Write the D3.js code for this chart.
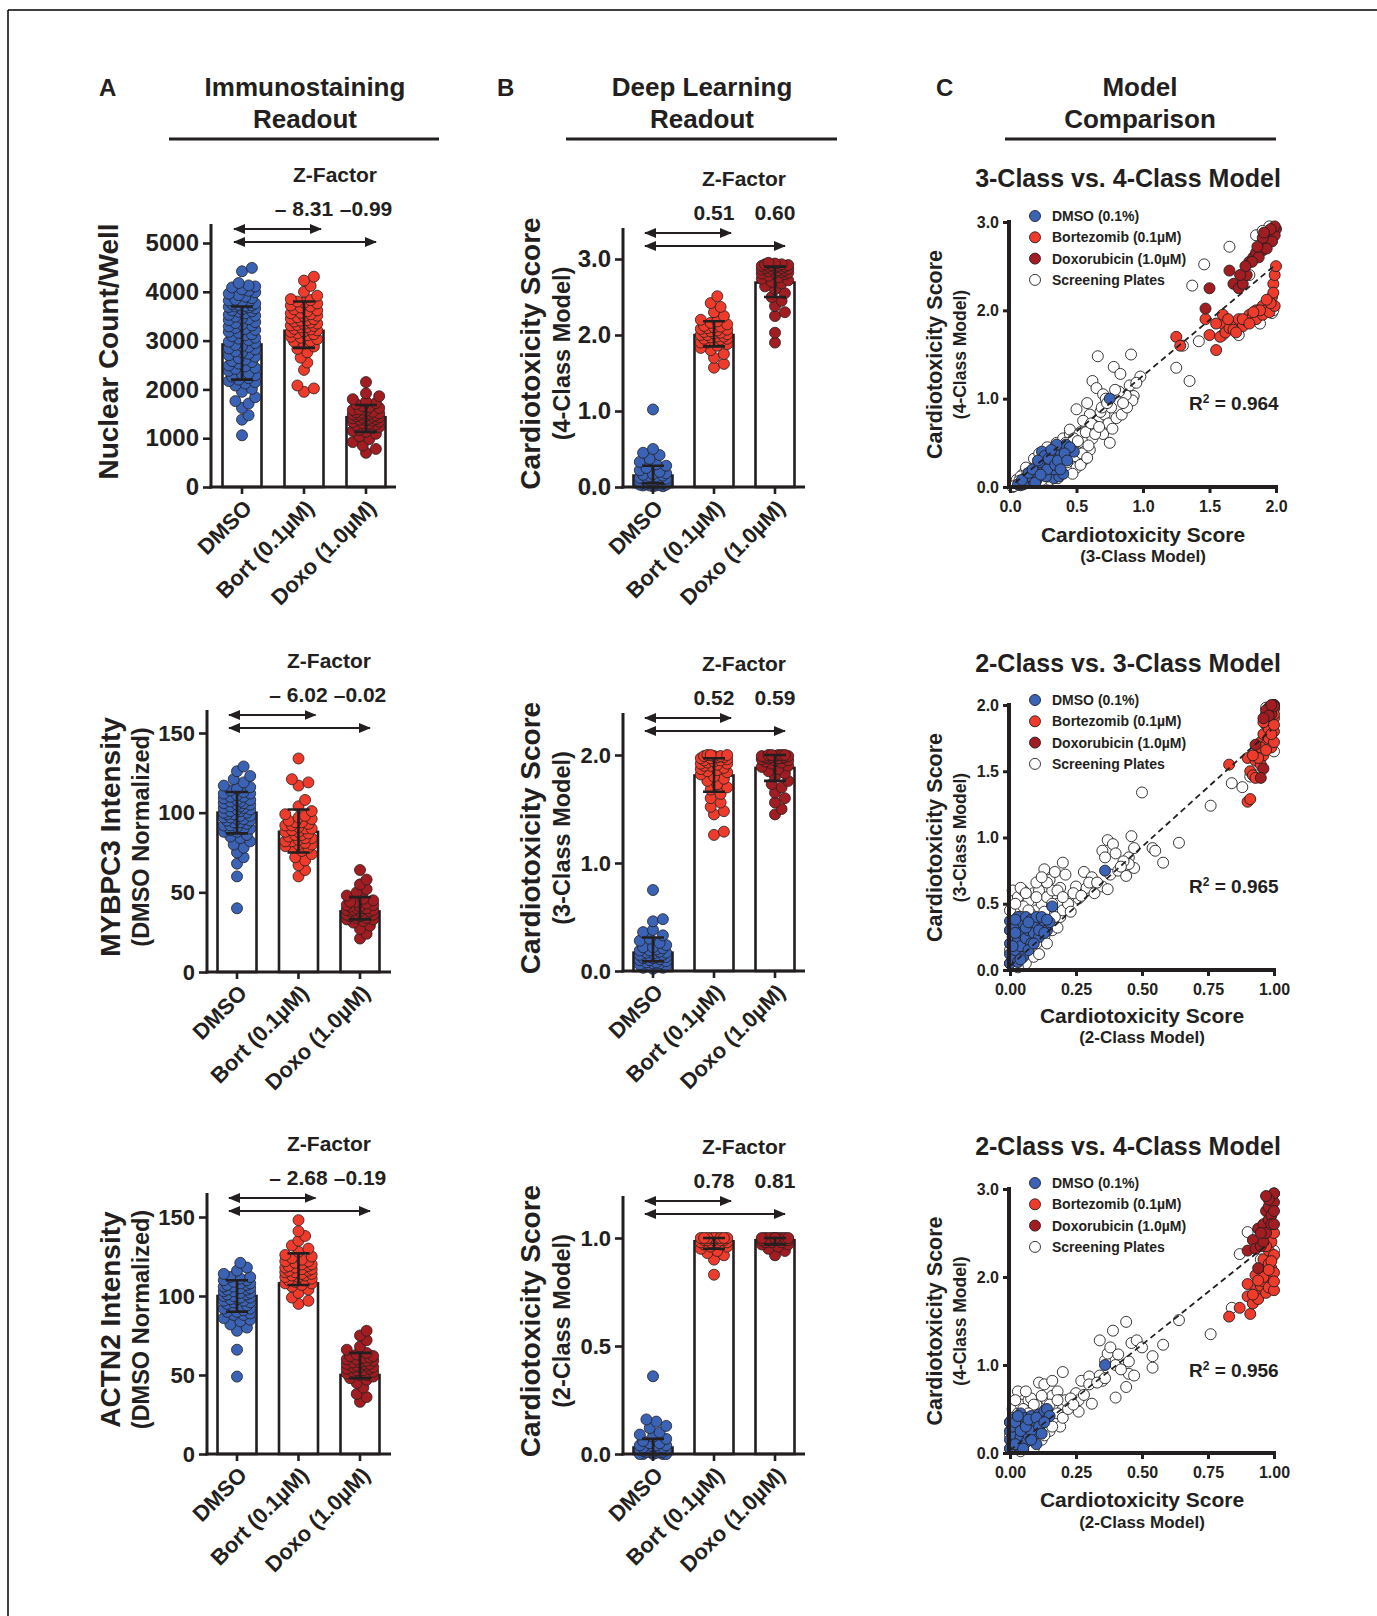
<!DOCTYPE html>
<html>
<head>
<meta charset="utf-8">
<script src="https://cdn.jsdelivr.net/npm/d3@7"></script>
<style>
body { margin: 0; background: #fff; }
text { font-family: "Liberation Sans", Arial, sans-serif; font-weight: bold; fill: #231f20; }
</style>
</head>
<body>
<svg id="fig" width="1377" height="1616"></svg>
<script>
// categories and colours
const groups = ["DMSO", "Bort (0.1\u00b5M)", "Doxo (1.0\u00b5M)"];
const groupColors = ["#3a62b5", "#ef3b2c", "#a11d21"];
const legendNames = ["DMSO (0.1%)", "Bortezomib (0.1\u00b5M)", "Doxorubicin (1.0\u00b5M)", "Screening Plates"];

// A1 nuclear count
const nucDMSO = [1060,1380,1470,1620,1710,1760,1840,1950,2010,2080,2120,2170,2200,2230,2290,2330,2380,2420,2470,2530,2560,2610,2640,2700,2730,2780,2820,2870,2910,2950,3010,3040,3090,3130,3180,3220,3260,3290,3330,3380,3420,3460,3510,3560,3600,3640,3680,3700,3720,3750,3780,3820,3870,3930,3990,4050,4090,4130,4180,4420,4490,
	2150,2260,2310,2440,2490,2580,2670,2760,2840,2890,2980,3060,3110,3160,3240,3310,3360,3440,3490,3530,3590,3620,3660,3690,3710,3730,3760,3800,3840,3900,3960,4020,4110];
const nucBort = [1950,2020,2080,2400,2550,2650,2760,2830,2880,2940,2990,3030,3080,3110,3150,3190,3210,3240,3270,3300,3320,3340,3370,3390,3420,3450,3480,3510,3540,3570,3600,3640,3680,3720,3760,3800,3850,3920,4000,4120,4230,4310,
	2980,3060,3130,3180,3230,3280,3310,3350,3410,3440,3500,3560,3620,3700,3780,3830];
const nucDoxo = [700,780,850,920,980,1040,1090,1130,1170,1210,1250,1280,1310,1340,1360,1380,1400,1420,1440,1460,1480,1500,1520,1540,1560,1590,1620,1660,1700,1750,1800,1860,1920,2150,
	1150,1230,1270,1300,1330,1370,1390,1410,1430,1450,1470,1490,1510,1530,1580,1640,1720];
const nucMean = [2920, 3200, 1430];
const nucErr = [[2200, 3700], [2850, 3800], [1130, 1680]];
const nucTicks = [0, 1000, 2000, 3000, 4000, 5000];
const zNuc = [-8.31, -0.99];

// B1 4-class score
const dl4DMSO = [0.01,0.02,0.02,0.03,0.03,0.04,0.05,0.05,0.06,0.07,0.07,0.08,0.09,0.1,0.1,0.11,0.12,0.13,0.14,0.15,0.16,0.18,0.2,0.22,0.25,0.28,0.3,0.33,0.37,0.42,0.45,0.5,1.02,
	0.01,0.02,0.03,0.04,0.05,0.06,0.08,0.09,0.11,0.12,0.14,0.17];
const dl4Bort = [1.57,1.62,1.7,1.75,1.8,1.83,1.86,1.88,1.9,1.92,1.94,1.95,1.97,1.98,2.0,2.01,2.02,2.04,2.05,2.07,2.08,2.1,2.12,2.14,2.16,2.18,2.2,2.25,2.3,2.37,2.42,2.51,
	1.9,1.95,1.98,2.0,2.03,2.06,2.09,2.11];
const dl4Doxo = [1.9,2.03,2.25,2.3,2.38,2.45,2.5,2.55,2.6,2.64,2.68,2.7,2.72,2.74,2.76,2.78,2.8,2.81,2.82,2.83,2.84,2.85,2.86,2.87,2.88,2.89,2.9,2.91,2.92,2.93,2.94,2.95,
	2.82,2.85,2.87,2.88,2.9,2.91,2.92,2.93];
const dl4Mean = [0.15, 2.0, 2.69];
const dl4Err = [[0.05, 0.28], [1.85, 2.18], [2.5, 2.9]];
const dl4Ticks = [0, 1, 2, 3];
const zDl4 = [0.51, 0.60];

// A2 MYBPC3
const mybDMSO = [40,60,68,72,75,78,80,82,84,86,88,89,90,91,92,93,94,95,96,97,98,99,100,101,102,103,104,105,106,107,108,109,110,111,112,113,115,117,119,121,123,126,129,
	85,88,90,92,94,95,96,97,98,99,100,101,102,103,104,105,106,107,108,110,112,114,116];
const mybBort = [60,64,67,70,72,74,76,78,79,80,81,82,83,84,85,86,87,88,89,90,91,92,93,94,96,98,101,104,108,117,119,121,134,
	78,80,82,84,86,88,90,92,94,95,97,99];
const mybDoxo = [21,24,27,29,31,32,33,34,35,35,36,37,37,38,38,39,39,40,40,41,42,43,44,45,46,48,50,52,55,58,64,
	33,34,36,37,38,39,40,41,42,44];
const mybMean = [100, 88, 38];
const mybErr = [[87, 113], [75, 102], [33, 47]];
const mybTicks = [0, 50, 100, 150];
const zMyb = [-6.02, -0.02];

// B2 3-class score
const dl3DMSO = [0.02,0.03,0.04,0.05,0.06,0.07,0.08,0.09,0.1,0.11,0.12,0.13,0.14,0.15,0.16,0.17,0.18,0.19,0.2,0.21,0.22,0.24,0.26,0.28,0.3,0.33,0.36,0.38,0.46,0.48,0.75,
	0.03,0.05,0.07,0.08,0.1,0.12,0.13,0.15,0.17,0.19,0.22];
const dl3Bort = [1.26,1.29,1.45,1.48,1.52,1.56,1.6,1.64,1.68,1.7,1.73,1.76,1.78,1.8,1.82,1.84,1.86,1.87,1.88,1.9,1.91,1.92,1.93,1.94,1.95,1.96,1.97,1.98,1.99,1.99,2.0,2.0,
	1.85,1.9,1.92,1.95,1.97,1.98,1.99,2.0];
const dl3Doxo = [1.45,1.5,1.56,1.6,1.65,1.7,1.73,1.76,1.8,1.83,1.85,1.87,1.89,1.9,1.92,1.93,1.94,1.95,1.96,1.97,1.97,1.98,1.98,1.99,1.99,2.0,2.0,2.0,
	1.95,1.97,1.98,1.99,2.0,2.0];
const dl3Mean = [0.17, 1.81, 1.88];
const dl3Err = [[0.09, 0.31], [1.66, 1.97], [1.76, 2.0]];
const dl3Ticks = [0, 1, 2];
const zDl3 = [0.52, 0.59];

// A3 ACTN2
const actDMSO = [49,66,78,80,82,84,86,88,89,90,91,92,93,94,95,96,97,98,99,100,101,102,103,104,105,106,107,108,109,110,111,112,114,116,118,121,
	85,88,90,92,94,96,97,98,99,100,101,102,103,104,105,106,107,108,110,112];
const actBort = [95,97,99,102,104,106,107,108,109,110,111,112,113,114,115,116,117,118,119,120,121,122,123,124,126,128,130,132,135,138,141,148,
	108,110,112,113,114,115,116,117,118,119,120,122,125];
const actDoxo = [33,36,38,42,45,47,49,50,51,52,53,54,55,55,56,57,57,58,59,60,61,62,63,64,66,68,72,75,78,
	48,50,52,53,54,55,56,57,58,59,60,61,62];
const actMean = [100, 108, 50];
const actErr = [[90, 110], [107, 127], [48, 64]];
const actTicks = [0, 50, 100, 150];
const zAct = [-2.68, -0.19];

// B3 2-class score
const dl2DMSO = [0,0,0,0.005,0.01,0.01,0.01,0.015,0.02,0.02,0.02,0.025,0.03,0.03,0.035,0.04,0.04,0.05,0.06,0.07,0.08,0.09,0.1,0.12,0.13,0.15,0.16,0.36,
	0,0,0.01,0.01,0.02,0.02,0.03,0.04,0.05];
const dl2Bort = [0.83,0.9,0.92,0.93,0.94,0.95,0.96,0.96,0.97,0.97,0.98,0.98,0.98,0.99,0.99,0.99,0.99,1.0,1.0,1.0,1.0,1.0,1.0,1.0,
	0.98,0.99,1.0,1.0,0.97];
const dl2Doxo = [0.92,0.94,0.95,0.96,0.97,0.97,0.98,0.98,0.99,0.99,0.99,1.0,1.0,1.0,1.0,1.0,1.0,1.0,1.0,
	0.98,0.99,1.0,1.0];
const dl2Mean = [0.03, 0.985, 0.99];
const dl2Err = [[0.0, 0.07], [0.95, 1.0], [0.97, 1.0]];
const dl2Ticks = [0, 0.5, 1];
const zDl2 = [0.78, 0.81];

// C1 3-class (x) vs 4-class (y)
const c1Screen = [[0.02,0.0],[0.04,0.02],[0.06,0.03],[0.08,0.05],[0.05,0.08],[0.1,0.06],[0.12,0.1],[0.14,0.08],[0.16,0.12],[0.18,0.18],[0.2,0.15],[0.22,0.1],[0.25,0.14],[0.28,0.18],[0.3,0.22],[0.32,0.16],[0.35,0.2],[0.38,0.25],[0.4,0.3],[0.42,0.22],[0.45,0.35],[0.47,0.28],[0.5,0.4],[0.52,0.45],[0.55,0.5],[0.58,0.55],[0.5,0.3],[0.44,0.18],[0.36,0.1],[0.3,0.08],[0.1,0.15],[0.15,0.2],[0.2,0.25],[0.25,0.32],[0.3,0.42],[0.18,0.32],[0.12,0.22],[0.08,0.12],[0.22,0.38],[0.28,0.45],[0.35,0.5],[0.4,0.55],[0.45,0.6],[0.6,0.65],[0.62,0.55],[0.56,0.4],[0.48,0.48],[0.38,0.38],[0.53,0.62],[0.66,0.75],[0.71,0.82],[0.74,0.72],[0.8,0.78],[0.76,0.9],[0.42,0.5],[0.33,0.33],[0.26,0.26],[0.5,0.22],[0.55,0.3],[0.6,0.42],[0.62,1.2],[0.65,1.12],[0.7,1.05],[0.66,1.48],[0.78,1.36],[0.83,1.28],[0.91,1.5],[0.98,1.25],[0.93,1.03],[0.92,0.98],[0.87,1.04],[0.82,1.08],[0.72,1.0],[0.68,0.85],[0.6,0.82],[0.55,0.75],[0.63,0.7],[0.7,0.6],[0.75,0.5],[0.84,0.82],[0.88,0.9],[0.58,0.95],[0.5,0.88],[0.45,0.65],[0.52,0.6],[0.48,0.55],[1.25,1.35],[1.35,1.2],[1.42,1.65],[1.3,1.6],[1.37,2.28],[1.46,2.52],[1.65,2.72],[1.6,1.72],[1.72,1.72],[1.78,1.88],[1.85,2.85],[1.95,2.95],[1.97,1.97],[1.88,1.85],[1.8,2.4],[1.92,2.05],[1.9,2.9],[1.98,2.0],
	[0.03,0.01],[0.07,0.07],[0.11,0.04],[0.13,0.15],[0.17,0.07],[0.19,0.22],[0.21,0.05],[0.23,0.17],[0.24,0.08],[0.27,0.29],[0.29,0.12],[0.31,0.35],[0.34,0.27],[0.37,0.18],[0.39,0.45],[0.41,0.36],[0.43,0.28],[0.46,0.42],[0.49,0.35],[0.51,0.52],[0.54,0.38],[0.57,0.62],[0.59,0.47],[0.61,0.72],[0.64,0.6],[0.67,0.68],[0.69,0.9],[0.73,0.95],[0.77,0.66],[0.79,1.1],[0.85,0.95],[0.9,1.15],[0.95,1.18],[0.53,0.25],[0.58,0.33],[0.47,0.15]];
const c1DMSO = [[0.08,0.02],[0.1,0.05],[0.12,0.08],[0.15,0.1],[0.18,0.15],[0.2,0.12],[0.22,0.2],[0.25,0.22],[0.28,0.25],[0.3,0.3],[0.32,0.28],[0.35,0.35],[0.38,0.4],[0.4,0.45],[0.42,0.48],[0.24,0.4],[0.35,0.48],[0.48,0.4],[0.3,0.15],[0.33,0.1],[0.37,0.12],[0.27,0.12],[0.2,0.08],[0.15,0.05],[0.1,0.03],[0.25,0.3],[0.3,0.38],[0.33,0.2],[0.18,0.1],[0.13,0.12],[0.22,0.28],[0.4,0.15],[0.28,0.2],[0.45,0.45],[0.75,1.0],
	[0.06,0.03],[0.09,0.08],[0.14,0.16],[0.17,0.2],[0.19,0.05],[0.23,0.14],[0.26,0.35],[0.29,0.32],[0.31,0.42],[0.34,0.25],[0.36,0.3],[0.38,0.2],[0.41,0.38],[0.43,0.3],[0.21,0.3]];
const c1Bort = [[1.25,1.7],[1.28,1.6],[1.47,1.9],[1.5,1.72],[1.55,1.55],[1.58,1.7],[1.6,1.85],[1.62,1.75],[1.65,1.8],[1.7,1.85],[1.72,1.9],[1.75,1.82],[1.78,1.88],[1.8,1.95],[1.82,1.92],[1.85,2.0],[1.88,1.95],[1.9,2.05],[1.92,2.0],[1.95,2.1],[1.97,2.15],[1.98,2.3],[1.99,2.4],[2.0,2.5],[1.98,2.2],[1.85,1.9],[1.9,1.95],[1.95,1.98],[1.75,1.9],[1.68,1.78],[1.6,1.95],[1.55,1.85],[1.99,2.05],[1.96,2.08],[1.93,2.12],[1.88,2.0],[1.83,1.98],[1.8,1.85],[1.7,1.75],[1.64,1.9]];
const c1Doxo = [[1.47,2.02],[1.5,2.25],[1.65,2.45],[1.68,2.3],[1.72,2.25],[1.75,2.3],[1.78,2.4],[1.8,2.55],[1.83,2.6],[1.85,2.65],[1.88,2.7],[1.9,2.68],[1.92,2.75],[1.94,2.8],[1.96,2.85],[1.98,2.9],[2.0,2.92],[1.95,2.88],[1.99,2.85],[1.97,2.78],[1.9,2.82],[1.87,2.6],[1.82,2.55],[1.77,2.5],[1.73,2.4],[1.93,2.7],[1.99,2.95],[1.96,2.92],[1.86,2.72],[1.91,2.88]];

// C2 2-class (x) vs 3-class (y)
const c2Screen = [[0.0,0.05],[0.0,0.15],[0.0,0.3],[0.0,0.45],[0.01,0.6],[0.02,0.35],[0.03,0.55],[0.04,0.1],[0.05,0.25],[0.05,0.6],[0.06,0.4],[0.07,0.52],[0.08,0.15],[0.08,0.3],[0.09,0.58],[0.1,0.45],[0.1,0.2],[0.11,0.6],[0.12,0.35],[0.12,0.5],[0.13,0.25],[0.13,0.76],[0.14,0.55],[0.15,0.4],[0.15,0.68],[0.16,0.6],[0.16,0.3],[0.17,0.74],[0.18,0.5],[0.19,0.4],[0.19,0.62],[0.2,0.81],[0.2,0.45],[0.02,0.2],[0.04,0.4],[0.06,0.05],[0.09,0.1],[0.11,0.28],[0.14,0.2],[0.18,0.32],[0.03,0.02],[0.07,0.22],[0.05,0.48],[0.1,0.66],[0.08,0.42],[0.25,0.63],[0.26,0.54],[0.28,0.74],[0.29,0.62],[0.31,0.7],[0.32,0.58],[0.35,0.9],[0.35,0.63],[0.36,0.85],[0.37,0.98],[0.37,0.61],[0.38,0.72],[0.39,0.95],[0.4,0.88],[0.41,0.75],[0.44,0.71],[0.45,0.85],[0.46,1.01],[0.47,0.92],[0.47,0.77],[0.45,0.8],[0.5,1.34],[0.54,0.92],[0.55,0.9],[0.58,0.81],[0.64,0.96],[0.76,1.24],[0.84,1.41],[0.88,1.38],[0.91,1.46],[0.3,0.66],[0.33,0.66],[0.22,0.5],[0.24,0.58],[0.27,0.56],[0.43,0.82],[0.42,0.78],[0.95,1.6],[1.0,1.65],[0.97,1.98],[1.0,2.0],[0.93,1.47],
	[0.01,0.1],[0.02,0.5],[0.03,0.38],[0.04,0.62],[0.06,0.16],[0.07,0.45],[0.09,0.34],[0.1,0.55],[0.11,0.12],[0.13,0.44],[0.14,0.66],[0.16,0.5],[0.17,0.4],[0.18,0.6],[0.2,0.55],[0.21,0.72],[0.23,0.44],[0.12,0.7],[0.06,0.58]];
const c2DMSO = [[0.0,0.05],[0.0,0.12],[0.0,0.2],[0.0,0.3],[0.0,0.37],[0.01,0.25],[0.01,0.08],[0.02,0.15],[0.02,0.32],[0.03,0.22],[0.03,0.4],[0.04,0.18],[0.04,0.28],[0.05,0.35],[0.05,0.1],[0.06,0.24],[0.06,0.4],[0.07,0.3],[0.08,0.2],[0.08,0.38],[0.09,0.28],[0.1,0.35],[0.1,0.4],[0.11,0.25],[0.12,0.32],[0.13,0.37],[0.14,0.3],[0.15,0.36],[0.16,0.48],[0.03,0.06],[0.02,0.28],[0.07,0.15],[0.36,0.75],
	[0.01,0.18],[0.02,0.38],[0.04,0.08],[0.06,0.32],[0.07,0.36],[0.09,0.2],[0.11,0.3],[0.12,0.4],[0.13,0.28],[0.14,0.38]];
const c2Bort = [[0.83,1.55],[0.9,1.27],[0.91,1.29],[0.9,1.6],[0.91,1.5],[0.92,1.47],[0.93,1.58],[0.93,1.45],[0.94,1.65],[0.95,1.72],[0.95,1.55],[0.96,1.62],[0.96,1.78],[0.97,1.7],[0.97,1.85],[0.98,1.75],[0.98,1.9],[0.98,1.82],[0.99,1.68],[0.99,1.88],[0.99,1.95],[1.0,1.72],[1.0,1.8],[1.0,1.9],[1.0,1.97],[0.99,1.78],[0.97,1.93],[0.96,1.87],[0.94,1.6],[0.95,1.68],[0.98,1.98],[1.0,1.85],[0.92,1.62],[0.97,1.66],[1.0,1.93]];
const c2Doxo = [[0.93,1.7],[0.96,1.52],[0.98,1.97],[1.0,2.0],[0.99,1.98],[0.99,1.93],[0.97,1.96],[1.0,1.99],[0.98,1.92],[0.96,1.9],[0.95,1.45],[0.99,2.0]];

// C3 2-class (x) vs 4-class (y)
const c3Screen = [[0.0,0.05],[0.0,0.2],[0.0,0.35],[0.01,0.5],[0.02,0.3],[0.02,0.1],[0.03,0.45],[0.04,0.55],[0.05,0.2],[0.05,0.38],[0.06,0.5],[0.07,0.1],[0.07,0.6],[0.08,0.3],[0.09,0.45],[0.1,0.2],[0.1,0.55],[0.11,0.8],[0.12,0.35],[0.12,0.15],[0.13,0.78],[0.14,0.6],[0.15,0.45],[0.15,0.25],[0.16,0.65],[0.16,0.82],[0.17,0.55],[0.17,0.35],[0.18,0.7],[0.19,0.3],[0.19,0.6],[0.2,0.92],[0.2,0.5],[0.21,0.6],[0.04,0.02],[0.09,0.05],[0.13,0.2],[0.18,0.45],[0.03,0.7],[0.06,0.3],[0.11,0.42],[0.14,0.5],[0.08,0.62],[0.25,0.68],[0.26,0.47],[0.26,0.6],[0.27,0.82],[0.28,0.66],[0.3,0.87],[0.31,0.56],[0.34,0.88],[0.34,1.28],[0.35,0.82],[0.36,1.05],[0.37,1.13],[0.38,1.2],[0.39,1.39],[0.4,1.0],[0.4,0.63],[0.41,1.12],[0.44,0.75],[0.44,1.49],[0.45,0.9],[0.45,1.04],[0.46,1.25],[0.47,0.88],[0.48,1.28],[0.5,1.2],[0.54,0.97],[0.54,1.1],[0.58,1.23],[0.64,1.51],[0.76,1.35],[0.84,1.65],[0.87,2.26],[0.9,2.51],[0.3,0.78],[0.33,0.8],[0.23,0.62],[0.42,0.95],[0.36,0.85],[0.97,2.0],[1.0,2.3],[0.98,2.6],[1.0,2.95],[0.95,2.2],
	[0.01,0.4],[0.02,0.6],[0.03,0.2],[0.05,0.5],[0.06,0.7],[0.08,0.15],[0.09,0.55],[0.11,0.25],[0.12,0.65],[0.13,0.4],[0.15,0.55],[0.16,0.3],[0.18,0.6],[0.2,0.4],[0.22,0.5],[0.24,0.55],[0.07,0.45]];
const c3DMSO = [[0.0,0.05],[0.0,0.15],[0.0,0.25],[0.0,0.35],[0.01,0.12],[0.01,0.28],[0.02,0.2],[0.02,0.4],[0.03,0.08],[0.03,0.3],[0.04,0.18],[0.04,0.45],[0.05,0.25],[0.05,0.36],[0.06,0.12],[0.06,0.4],[0.07,0.3],[0.07,0.2],[0.08,0.42],[0.09,0.35],[0.09,0.2],[0.1,0.1],[0.1,0.3],[0.11,0.44],[0.12,0.38],[0.13,0.48],[0.14,0.5],[0.15,0.42],[0.02,0.1],[0.05,0.05],[0.08,0.25],[0.36,1.0],
	[0.01,0.3],[0.02,0.35],[0.03,0.42],[0.04,0.25],[0.06,0.3],[0.07,0.38],[0.08,0.15],[0.1,0.4],[0.11,0.3],[0.12,0.22],[0.13,0.35]];
const c3Bort = [[0.83,1.55],[0.87,1.65],[0.9,1.78],[0.9,1.92],[0.91,1.58],[0.92,1.7],[0.93,1.85],[0.93,2.02],[0.94,1.75],[0.95,1.9],[0.95,2.1],[0.96,1.95],[0.96,2.2],[0.97,1.82],[0.97,2.05],[0.98,2.15],[0.98,2.3],[0.98,1.88],[0.99,2.0],[0.99,2.4],[0.99,2.1],[1.0,1.85],[1.0,2.05],[1.0,2.25],[1.0,2.5],[0.97,2.35],[0.99,2.18],[0.96,2.0],[0.94,1.96],[1.0,1.95],[0.92,1.8],[0.98,2.08]];
const c3Doxo = [[0.9,2.3],[0.92,2.42],[0.93,2.32],[0.94,2.55],[0.95,2.35],[0.96,2.6],[0.96,2.4],[0.97,2.75],[0.97,2.5],[0.98,2.8],[0.98,2.65],[0.99,2.9],[0.99,2.7],[1.0,2.85],[1.0,2.95],[1.0,2.75],[0.98,2.88],[0.99,2.6],[0.97,2.92],[0.95,2.5],[0.94,2.1],[1.0,2.6]];

// regression fits [slope, intercept, xStart, xEnd] and R squared
const regFits = [[1.26, 0.0, 0.04, 2.0], [1.8, 0.03, 0.0, 0.99], [2.4, 0.03, 0.0, 0.98]];
const r2Values = [0.964, 0.965, 0.956];

// layout of the six bar panels (pixels only)
const barLayout = [
	{ax: 211, y0: 487, ref: 5000, refPx: 243, top: 224, xEnd: 396, c0: 242, c2: 366, tx: 108, sx: 141, fs: 24},
	{ax: 623, y0: 487, ref: 3, refPx: 259, top: 228, xEnd: 805, c0: 653, c2: 775, tx: 530, sx: 562, fs: 24},
	{ax: 207, y0: 972, ref: 150, refPx: 733, top: 710, xEnd: 391, c0: 237, c2: 360, tx: 110, sx: 141, fs: 22},
	{ax: 623, y0: 971, ref: 2, refPx: 755, top: 713, xEnd: 805, c0: 653, c2: 775, tx: 530, sx: 562, fs: 22},
	{ax: 207, y0: 1454, ref: 150, refPx: 1217, top: 1193, xEnd: 391, c0: 237, c2: 360, tx: 110, sx: 141, fs: 22},
	{ax: 623, y0: 1454, ref: 1, refPx: 1238, top: 1196, xEnd: 805, c0: 653, c2: 775, tx: 530, sx: 562, fs: 22}
];

const barData = [
	{dots: [nucDMSO, nucBort, nucDoxo], mean: nucMean, err: nucErr, ticks: nucTicks, fmt: d3.format("d"), z: zNuc, title: "Nuclear Count/Well", sub: null},
	{dots: [dl4DMSO, dl4Bort, dl4Doxo], mean: dl4Mean, err: dl4Err, ticks: dl4Ticks, fmt: d3.format(".1f"), z: zDl4, title: "Cardiotoxicity Score", sub: "(4-Class Model)"},
	{dots: [mybDMSO, mybBort, mybDoxo], mean: mybMean, err: mybErr, ticks: mybTicks, fmt: d3.format("d"), z: zMyb, title: "MYBPC3 Intensity", sub: "(DMSO Normalized)"},
	{dots: [dl3DMSO, dl3Bort, dl3Doxo], mean: dl3Mean, err: dl3Err, ticks: dl3Ticks, fmt: d3.format(".1f"), z: zDl3, title: "Cardiotoxicity Score", sub: "(3-Class Model)"},
	{dots: [actDMSO, actBort, actDoxo], mean: actMean, err: actErr, ticks: actTicks, fmt: d3.format("d"), z: zAct, title: "ACTN2 Intensity", sub: "(DMSO Normalized)"},
	{dots: [dl2DMSO, dl2Bort, dl2Doxo], mean: dl2Mean, err: dl2Err, ticks: dl2Ticks, fmt: d3.format(".1f"), z: zDl2, title: "Cardiotoxicity Score", sub: "(2-Class Model)"}
];

const scLayout = [
	{ax: 1009, x0: 1010, x1: 1276, y0: 487, y1: 222, titleY: 187, legY: 216, r2Y: 410, xtY: 542, xsY: 562},
	{ax: 1009, x0: 1010, x1: 1274, y0: 970, y1: 705, titleY: 672, legY: 700, r2Y: 893, xtY: 1023, xsY: 1043},
	{ax: 1009, x0: 1010, x1: 1274, y0: 1453, y1: 1189, titleY: 1155, legY: 1183, r2Y: 1377, xtY: 1507, xsY: 1528}
];

const scData = [
	{title: "3-Class vs. 4-Class Model", xmax: 2, ymax: 3, xticks: [0, 0.5, 1, 1.5, 2], yticks: [0, 1, 2, 3], xfmt: d3.format(".1f"), yfmt: d3.format(".1f"),
		sets: [c1Screen, c1DMSO, c1Bort, c1Doxo], xsub: "(3-Class Model)", ysub: "(4-Class Model)"},
	{title: "2-Class vs. 3-Class Model", xmax: 1, ymax: 2, xticks: [0, 0.25, 0.5, 0.75, 1], yticks: [0, 0.5, 1, 1.5, 2], xfmt: d3.format(".2f"), yfmt: d3.format(".1f"),
		sets: [c2Screen, c2DMSO, c2Bort, c2Doxo], xsub: "(2-Class Model)", ysub: "(3-Class Model)"},
	{title: "2-Class vs. 4-Class Model", xmax: 1, ymax: 3, xticks: [0, 0.25, 0.5, 0.75, 1], yticks: [0, 1, 2, 3], xfmt: d3.format(".2f"), yfmt: d3.format(".1f"),
		sets: [c3Screen, c3DMSO, c3Bort, c3Doxo], xsub: "(2-Class Model)", ysub: "(4-Class Model)"}
];

const ink = "#231f20";
const svg = d3.select("#fig");

whenDocumentLoaded(() => {
	drawFrame();
	barLayout.forEach((p, i) => barPanel(p, barData[i]));
	scLayout.forEach((p, i) => scatterPanel(p, scData[i], i));
});

function drawFrame() {
	svg.append("rect").attr("width", 1377).attr("height", 1616).attr("fill", "#fff");
	svg.append("path").attr("d", "M8,10H1377M8,10V1616").attr("stroke", "#000").attr("stroke-width", 1.5).attr("fill", "none");

	// column headers
	const heads = [
		{letter: "A", lx: 99, cx: 305, lines: ["Immunostaining", "Readout"], u: [169, 439]},
		{letter: "B", lx: 497, cx: 702, lines: ["Deep Learning", "Readout"], u: [566, 837]},
		{letter: "C", lx: 936, cx: 1140, lines: ["Model", "Comparison"], u: [1005, 1276]}
	];
	heads.forEach(h => {
		svg.append("text").attr("x", h.lx).attr("y", 96).style("font-size", "24px").text(h.letter);
		h.lines.forEach((l, k) => {
			svg.append("text").attr("x", h.cx).attr("y", 96 + k * 31.5).attr("text-anchor", "middle")
				.style("font-size", "26px").text(l);
		});
		svg.append("line").attr("x1", h.u[0]).attr("x2", h.u[1]).attr("y1", 139).attr("y2", 139)
			.attr("stroke", ink).attr("stroke-width", 3);
	});

	let defs = svg.append("defs");
	defs.append("marker").attr("id", "ahead").attr("viewBox", "0 0 12 10").attr("refX", 11).attr("refY", 5)
		.attr("markerWidth", 12).attr("markerHeight", 10).attr("markerUnits", "userSpaceOnUse").attr("orient", "auto-start-reverse")
		.append("path").attr("d", "M0,0L12,5L0,10Z").attr("fill", ink);
}

// simple beeswarm: sorted by value, nearest free slot to the centre line
function swarm(vals, y, r, half) {
	const pts = vals.map(v => ({v: v, py: y(v)})).sort((a, b) => b.py - a.py);
	const step = r * 0.6;
	const offs = [0];
	for (let k = 1; k * step <= half; k++) offs.push(k * step, -k * step);
	const placed = [];
	pts.forEach(p => {
		let best = 0, bestD = -1;
		for (const o of offs) {
			let md = Infinity;
			for (const q of placed) {
				if (Math.abs(q.py - p.py) < 2 * r) {
					const dd = Math.hypot(q.o - o, q.py - p.py);
					if (dd < md) md = dd;
				}
			}
			if (md >= 2 * r * 0.72) { best = o; bestD = md; break; }
			if (md > bestD) { bestD = md; best = o; }
		}
		p.o = best;
		placed.push(p);
	});
	return pts;
}

function barPanel(p, d) {
	const g = svg.append("g");
	const y = d3.scaleLinear().domain([0, p.ref]).range([p.y0, p.refPx]);
	const x = d3.scalePoint().domain(groups).range([p.c0, p.c2]);
	const bw = 39;

	// bars
	g.selectAll("rect.bar").data(groups).enter().append("rect")
		.attr("x", c => x(c) - bw / 2).attr("width", bw)
		.attr("y", (c, i) => y(d.mean[i])).attr("height", (c, i) => p.y0 - y(d.mean[i]))
		.attr("fill", "#fff").attr("stroke", ink).attr("stroke-width", 2.6);

	// dots
	groups.forEach((c, i) => {
		const pts = swarm(d.dots[i], y, 5.5, 15.5);
		g.selectAll(null).data(pts).enter().append("circle")
			.attr("cx", q => x(c) + q.o).attr("cy", q => q.py).attr("r", 5.5)
			.attr("fill", groupColors[i]).attr("stroke", ink).attr("stroke-width", 0.8);
	});

	// error bars
	groups.forEach((c, i) => {
		const [lo, hi] = d.err[i];
		const cx = x(c);
		g.append("path")
			.attr("d", `M${cx},${y(lo)}V${y(hi)}M${cx - 11},${y(lo)}H${cx + 11}M${cx - 11},${y(hi)}H${cx + 11}`)
			.attr("stroke", ink).attr("stroke-width", 2.6).attr("fill", "none");
	});

	// y axis
	const ya = g.append("g").attr("transform", `translate(${p.ax},0)`)
		.call(d3.axisLeft(y).tickValues(d.ticks).tickFormat(d.fmt).tickSize(8).tickPadding(4));
	ya.select(".domain").remove();
	ya.selectAll(".tick line").attr("stroke", ink).attr("stroke-width", 2.6);
	ya.selectAll(".tick text").style("font-size", p.fs + "px").attr("fill", ink)
		.style("font-family", "'Liberation Sans', Arial, sans-serif").style("font-weight", "bold");
	g.append("line").attr("x1", p.ax).attr("x2", p.ax).attr("y1", p.top).attr("y2", p.y0 + 1.5)
		.attr("stroke", ink).attr("stroke-width", 3);

	// x axis
	g.append("line").attr("x1", p.ax - 1.5).attr("x2", p.xEnd).attr("y1", p.y0).attr("y2", p.y0)
		.attr("stroke", ink).attr("stroke-width", 3);
	groups.forEach(c => {
		g.append("line").attr("x1", x(c)).attr("x2", x(c)).attr("y1", p.y0).attr("y2", p.y0 + 7)
			.attr("stroke", ink).attr("stroke-width", 2.6);
		g.append("text").attr("transform", `translate(${x(c) + 6},${p.y0 + 17}) rotate(-45)`)
			.attr("text-anchor", "end").attr("dy", "0.35em").style("font-size", "22px").text(c);
	});

	// y titles
	const my = (p.top + p.y0) / 2 - 4;
	g.append("text").attr("transform", `translate(${p.tx + 10},${my}) rotate(-90)`)
		.attr("text-anchor", "middle").style("font-size", "28px").text(d.title);
	if (d.sub) {
		g.append("text").attr("transform", `translate(${p.sx + 8},${my}) rotate(-90)`)
			.attr("text-anchor", "middle").style("font-size", "23.5px").text(d.sub);
	}

	// comparison arrows
	const xl = x(groups[0]) - 8;
	[[x(groups[1]) + 17, p.top + 5], [x(groups[2]) + 10, p.top + 18]].forEach(a => {
		g.append("line").attr("x1", xl).attr("x2", a[0]).attr("y1", a[1]).attr("y2", a[1])
			.attr("stroke", ink).attr("stroke-width", 2.2)
			.attr("marker-start", "url(#ahead)").attr("marker-end", "url(#ahead)");
	});

	// Z-factor
	const f2 = d3.format(".2f");
	g.append("text").attr("x", x(groups[2]) - 31).attr("y", p.top - 42).attr("text-anchor", "middle")
		.style("font-size", "21px").text("Z-Factor");
	d.z.forEach((v, i) => {
		let s = f2(Math.abs(v));
		if (v < 0) s = (i === 0 ? "\u2013 " : "\u2013") + s;
		g.append("text").attr("x", x(groups[i + 1])).attr("y", p.top - 8).attr("text-anchor", "middle")
			.style("font-size", "21px").text(s);
	});
}

function scatterPanel(p, d, idx) {
	const g = svg.append("g");
	const x = d3.scaleLinear().domain([0, d.xmax]).range([p.x0, p.x1]);
	const y = d3.scaleLinear().domain([0, d.ymax]).range([p.y0, p.y1]);
	const fills = ["#fff"].concat(groupColors);
	const fit = regFits[idx];

	d.sets.forEach((set, k) => {
		g.selectAll(null).data(set).enter().append("circle")
			.attr("cx", q => x(q[0])).attr("cy", q => y(q[1])).attr("r", 5.5)
			.attr("fill", fills[k]).attr("stroke", ink).attr("stroke-width", 0.9);
	});

	// dashed regression line
	g.append("line").attr("x1", x(fit[2])).attr("y1", y(fit[1] + fit[0] * fit[2]))
		.attr("x2", x(fit[3])).attr("y2", y(fit[1] + fit[0] * fit[3]))
		.attr("stroke", ink).attr("stroke-width", 1.8).attr("stroke-dasharray", "6,4");

	// axes
	g.append("path").attr("d", `M${p.ax},${p.y1 - 2}V${p.y0}H${p.x1 + 2}`)
		.attr("stroke", ink).attr("stroke-width", 4).attr("fill", "none");
	const xa = g.append("g").attr("transform", `translate(0,${p.y0})`)
		.call(d3.axisBottom(x).tickValues(d.xticks).tickFormat(d.xfmt).tickSize(6).tickPadding(8));
	xa.select(".domain").remove();
	const ya = g.append("g").attr("transform", `translate(${p.ax},0)`)
		.call(d3.axisLeft(y).tickValues(d.yticks).tickFormat(d.yfmt).tickSize(6).tickPadding(4));
	ya.select(".domain").remove();
	[xa, ya].forEach(a => {
		a.selectAll(".tick line").attr("stroke", ink).attr("stroke-width", 3);
		a.selectAll(".tick text").style("font-size", "16px").attr("fill", ink)
			.style("font-family", "'Liberation Sans', Arial, sans-serif").style("font-weight", "bold");
	});

	// title
	g.append("text").attr("x", 1128).attr("y", p.titleY).attr("text-anchor", "middle")
		.style("font-size", "25px").text(d.title);

	// legend
	legendNames.forEach((n, k) => {
		const ly = p.legY + k * 21.3;
		g.append("circle").attr("cx", 1035).attr("cy", ly).attr("r", 5.5)
			.attr("fill", k === 3 ? "#fff" : groupColors[k]).attr("stroke", ink).attr("stroke-width", 0.9);
		g.append("text").attr("x", 1052).attr("y", ly).attr("dy", "0.36em").style("font-size", "14px").text(n);
	});

	// R squared
	const rt = g.append("text").attr("x", 1189).attr("y", p.r2Y).style("font-size", "19px");
	rt.append("tspan").text("R");
	rt.append("tspan").attr("dy", -7).style("font-size", "12px").text("2");
	rt.append("tspan").attr("dy", 7).text(" = " + d3.format(".3f")(r2Values[idx]));

	// axis titles
	const cx = (p.x0 + p.x1) / 2;
	g.append("text").attr("x", cx).attr("y", p.xtY).attr("text-anchor", "middle").style("font-size", "21px").text("Cardiotoxicity Score");
	g.append("text").attr("x", cx).attr("y", p.xsY).attr("text-anchor", "middle").style("font-size", "17px").text(d.xsub);
	const my = (p.y0 + p.y1) / 2;
	g.append("text").attr("transform", `translate(${942},${my}) rotate(-90)`).attr("text-anchor", "middle")
		.style("font-size", "21.5px").text("Cardiotoxicity Score");
	g.append("text").attr("transform", `translate(${966},${my}) rotate(-90)`).attr("text-anchor", "middle")
		.style("font-size", "17.5px").text(d.ysub);
}

function whenDocumentLoaded(action) {
	if (document.readyState === "loading") {
		document.addEventListener("DOMContentLoaded", action);
	} else {
		action();
	}
}
</script>
</body>
</html>
